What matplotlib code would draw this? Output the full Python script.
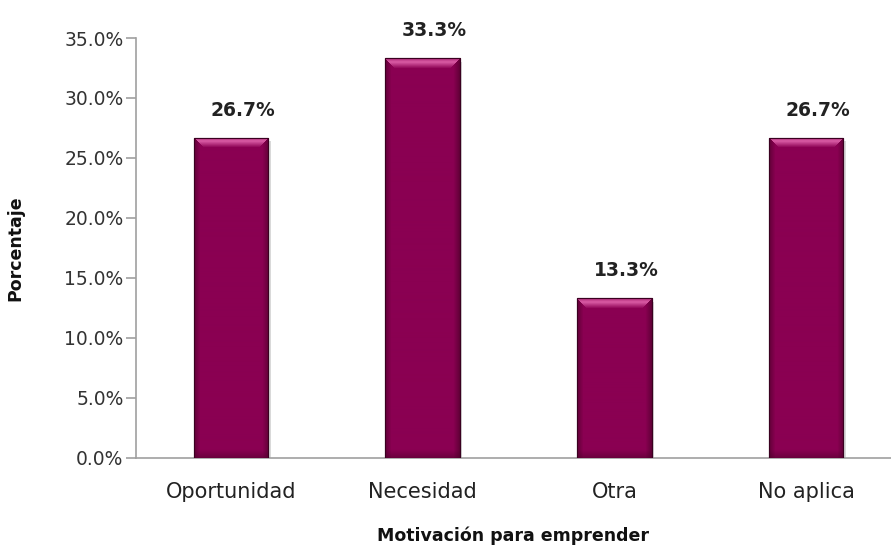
import matplotlib.pyplot as plt
import numpy as np
from matplotlib.colors import to_rgb

categorias = ['Oportunidad', 'Necesidad', 'Otra', 'No aplica']
porcentajes = [26.7, 33.3, 13.3, 26.7]
etiquetas = ['26.7%', '33.3%', '13.3%', '26.7%']
yticks = [0, 5, 10, 15, 20, 25, 30, 35]

base = np.array(to_rgb('#8a0052'))
brillo = np.array(to_rgb('#e86cb4'))
oscuro = np.array(to_rgb('#4a0028'))

fig = plt.figure(figsize=(8.91, 5.46), dpi=100)
ax = fig.add_axes([0.1526, 0.1612, 0.8474, 0.7692])

x = np.arange(len(categorias))
ancho = 0.39
barras = ax.bar(x, porcentajes, width=ancho, color='#8a0052',
                edgecolor='#2a0015', linewidth=0.8, zorder=3)


def mezcla(img, color, peso):
    peso = peso[..., None]
    return img * (1 - peso) + color * peso


# bevel shading inside each bar
for b, v in zip(barras, porcentajes):
    alto_px = int(v * 12)
    ancho_px = 75
    yy = np.arange(alto_px)[:, None] * np.ones((1, ancho_px))   # 0 = top
    xx = np.ones((alto_px, 1)) * np.arange(ancho_px)[None, :]
    borde = np.minimum(xx, ancho_px - 1 - xx)
    img = np.ones((alto_px, ancho_px, 3)) * base
    # top highlight band with mitred corners
    banda = (yy < 10) & (borde > yy - 1)
    perfil = np.clip(1.0 - np.abs(yy - 3.5) / 6.5, 0, 1)
    img = mezcla(img, brillo, np.where(banda, 0.85 * perfil, 0.0))
    # dark side strips
    lados = (borde < 6) & ~banda
    img = mezcla(img, oscuro, np.where(lados, 0.6 * (1 - borde / 6.0), 0.0))
    # darker bottom
    fondo = np.clip(1 - (alto_px - 1 - yy) / 8.0, 0, 1)
    img = mezcla(img, oscuro, 0.45 * fondo)
    x0 = b.get_x()
    im = ax.imshow(np.clip(img, 0, 1), extent=(x0, x0 + ancho, 0, v),
                   aspect='auto', zorder=4, interpolation='bilinear')
    im.set_clip_path(b)
    ax.add_patch(plt.Rectangle((x0, 0), ancho, v, fill=False,
                               edgecolor='#3a0020', linewidth=0.8, zorder=5))
    # soft shadow on the right
    ax.add_patch(plt.Rectangle((x0 + ancho, 0), 0.012, v - 0.3,
                               color='#000000', alpha=0.15, lw=0, zorder=2))

for xi, v, t in zip(x, porcentajes, etiquetas):
    ax.text(xi + 0.06, v + 1.5, t, ha='center', va='bottom', fontsize=13.5,
            fontweight='bold', color='#222222')

ax.set_xlim(-0.496, 3.443)
ax.set_ylim(0, 35)
ax.set_yticks(yticks)
ax.set_yticklabels([f'{t:.1f}%' for t in yticks], fontsize=13.5, color='#333333')
ax.set_xticks(x)
ax.set_xticklabels(categorias, fontsize=15, color='#222222')

for lado in ['top', 'right']:
    ax.spines[lado].set_visible(False)
for lado in ['left', 'bottom']:
    ax.spines[lado].set_color('#a0a0a0')
    ax.spines[lado].set_linewidth(1.2)
ax.tick_params(axis='y', length=7, width=1.2, color='#a0a0a0', pad=2)
ax.tick_params(axis='x', length=0, pad=17)

ax.set_xlabel('Motivación para emprender', fontsize=12.5, fontweight='bold',
              labelpad=18, color='#111111')
ax.set_ylabel('Porcentaje', fontsize=12.5, fontweight='bold', color='#111111')
ax.yaxis.set_label_coords(-0.148, 0.5)

fig.savefig('out.png', dpi=100)
